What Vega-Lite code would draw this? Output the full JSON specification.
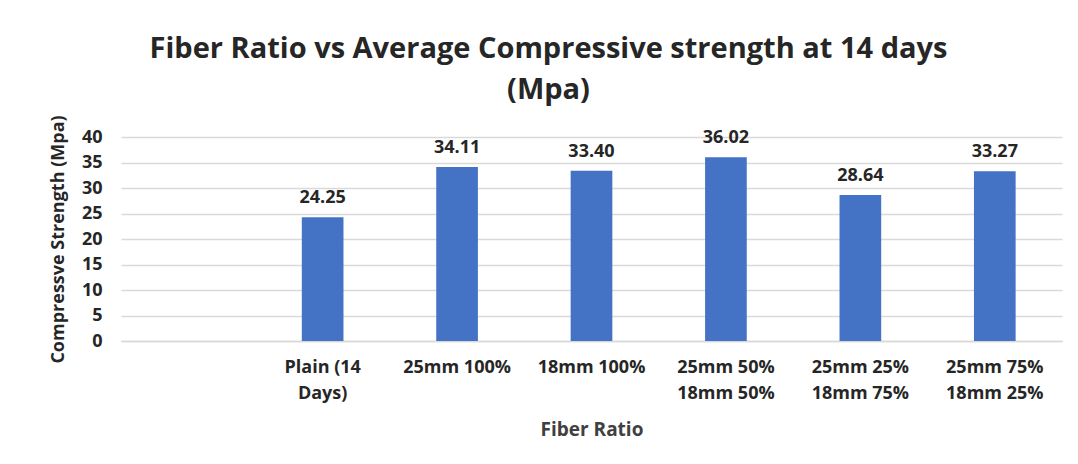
{
  "$schema": "https://vega.github.io/schema/vega-lite/v6.json",
  "autosize": {"type": "none"},
  "width": 941,
  "height": 204,
  "padding": {"left": 121, "top": 137, "right": 16, "bottom": 123},
  "background": "white",
  "title": {
    "text": ["Fiber Ratio vs Average Compressive strength at 14 days", "(Mpa)"],
    "anchor": "middle",
    "dx": -43,
    "offset": 10,
    "fontSize": 29,
    "lineHeight": 41,
    "font": "Open Sans",
    "fontWeight": "bold",
    "color": "#262626"
  },
  "data": {
    "values": [
      {"ratio": "", "strength": null, "order": 0},
      {"ratio": "Plain (14|Days)", "strength": 24.25, "order": 1},
      {"ratio": "25mm 100%", "strength": 34.11, "order": 2},
      {"ratio": "18mm 100%", "strength": 33.40, "order": 3},
      {"ratio": "25mm 50%|18mm 50%", "strength": 36.02, "order": 4},
      {"ratio": "25mm 25%|18mm 75%", "strength": 28.64, "order": 5},
      {"ratio": "25mm 75%|18mm 25%", "strength": 33.27, "order": 6}
    ]
  },
  "encoding": {
    "x": {
      "field": "ratio",
      "type": "nominal",
      "sort": {"field": "order"},
      "scale": {"paddingInner": 0.69, "paddingOuter": 0.345},
      "title": "Fiber Ratio",
      "axis": {
        "labelAngle": 0,
        "labelExpr": "split(datum.label, '|')",
        "labelFontSize": 18,
        "labelLineHeight": 26,
        "labelPadding": 17,
        "labelFont": "Open Sans",
        "labelFontWeight": "bold",
        "labelColor": "#262626",
        "labelBaseline": "top",
        "ticks": false,
        "domainColor": "#d9d9d9",
        "domainWidth": 1.5,
        "titleFont": "Open Sans",
        "titleFontSize": 19,
        "titleFontWeight": "bold",
        "titleColor": "#404040",
        "titlePadding": 18
      }
    },
    "y": {
      "field": "strength",
      "type": "quantitative",
      "scale": {"domain": [0, 40]},
      "title": "Compressve Strength (Mpa)",
      "axis": {
        "values": [0, 5, 10, 15, 20, 25, 30, 35, 40],
        "ticks": false,
        "domain": false,
        "gridColor": "#d9d9d9",
        "gridWidth": 1.5,
        "labelFontSize": 18,
        "labelFont": "Open Sans",
        "labelFontWeight": "bold",
        "labelColor": "#262626",
        "labelPadding": 19,
        "titleFont": "Open Sans",
        "titleFontSize": 18,
        "titleFontWeight": "bold",
        "titleColor": "#262626",
        "titlePadding": 14
      }
    }
  },
  "layer": [
    {"mark": {"type": "bar", "color": "#4472C4"}},
    {
      "mark": {
        "type": "text",
        "baseline": "alphabetic",
        "dy": -14,
        "font": "Open Sans",
        "fontWeight": "bold",
        "fontSize": 18,
        "color": "#262626"
      },
      "encoding": {"text": {"field": "strength", "type": "quantitative", "format": ".2f"}}
    }
  ],
  "config": {"view": {"stroke": null}}
}
